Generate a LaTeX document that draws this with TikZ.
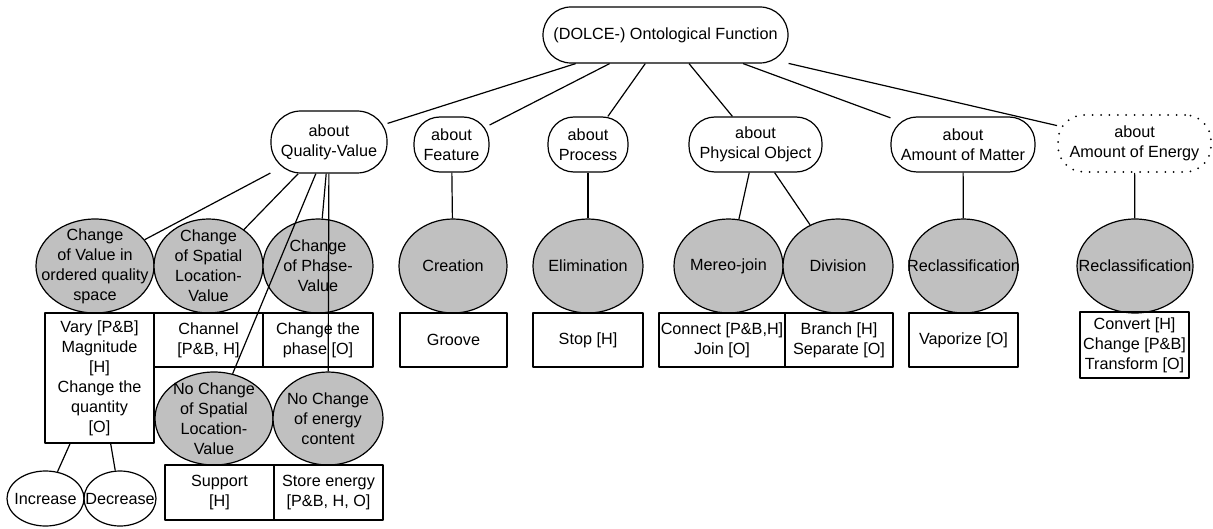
\documentclass[tikz,border=0pt]{standalone}
\usepackage{fontspec}
\setmainfont{Liberation Sans}
\usetikzlibrary{shapes.geometric}
\definecolor{funcgray}{RGB}{192,192,192}
\begin{document}
\begin{tikzpicture}[x=.5pt, y=-.5pt, line width=.6pt, line join=round, font=\fontsize{8.1}{10}\selectfont,
	about/.style={draw, rounded corners=13pt, minimum height=27.5pt, inner sep=0pt, align=center},
	func/.style={draw, ellipse, fill=funcgray, minimum height=47pt, inner sep=0pt},
	term/.style={draw, rectangle, minimum height=27pt, inner sep=0pt, align=center},
	leaf/.style={draw, ellipse, minimum height=27.5pt, inner sep=0pt}]
	\useasboundingbox (0,0) rectangle (1213,529);
	% root and the six "about" kinds
	\node[about, rounded corners=14pt, minimum width=122.5pt, minimum height=28pt] (root) at (665.5,35) {(DOLCE-) Ontological Function};
	\node[about, rounded corners=15pt, minimum width=58pt, minimum height=31pt] (qv) at (329,142) {about\\Quality-Value};
	\node[about, minimum width=37.5pt] (feat) at (451.5,144.5) {about\\Feature};
	\node[about, minimum width=40pt] (proc) at (588,144.5) {about\\Process};
	\node[about, minimum width=66.5pt] (phys) at (755.5,144.5) {about\\Physical Object};
	\node[about, minimum width=72pt] (matt) at (963,144.5) {about\\Amount of Matter};
	\node[about, minimum width=76.5pt, minimum height=28.5pt, line width=1pt, dash pattern=on 0pt off 4.2pt, line cap=round] (ener) at (1134.5,143.5) {about\\Amount of Energy};
	% functions
	\node[func, minimum width=59pt, label={[align=center]center:Change\\of Value in\\ordered quality\\space}] (cval) at (95,266) {};
	\node[func, minimum width=54.5pt, label={[align=center]center:Change\\of Spatial\\Location-\\Value}] (cloc) at (208.5,266) {};
	\node[func, minimum width=55pt, label={[align=center]center:Change\\of Phase-\\Value}] (cphase) at (318,266) {};
	\node[func, minimum width=54pt, label={center:Creation}] (crea) at (453,266) {};
	\node[func, minimum width=55pt, label={center:Elimination}] (elim) at (588,266) {};
	\node[func, minimum width=54.5pt, label={center:Mereo-join}] (mereo) at (728.5,266) {};
	\node[func, minimum width=55pt, label={center:Division}] (divi) at (838,266) {};
	\node[func, minimum width=54.5pt, label={center:Reclassification}] (reclm) at (963.5,266) {};
	\node[func, minimum width=58pt, label={center:Reclassification}] (recle) at (1135,266) {};
	\node[func, minimum width=59pt, minimum height=46.5pt, label={[align=center]center:No Change\\of Spatial\\Location-\\Value}] (nloc) at (214,418.5) {};
	\node[func, minimum width=55pt, minimum height=46.5pt, label={[align=center]center:No Change\\of energy\\content}] (nener) at (328,418.5) {};
	% verbs
	\node[term, minimum width=54.5pt, minimum height=65pt] (vary) at (99.5,378) {Vary [P\&B]\\Magnitude\\{}[H]\\Change the\\quantity\\{}[O]};
	\node[term, minimum width=54.5pt] (chan) at (208.5,340) {Channel\\{}[P\&B, H]};
	\node[term, minimum width=55pt] (phase) at (318,340) {Change the\\phase [O]};
	\node[term, minimum width=53.5pt] (groove) at (453.5,340) {Groove};
	\node[term, minimum width=55pt] (stop) at (588,340) {Stop [H]};
	\node[term, minimum width=63pt] (conn) at (722,340) {Connect [P\&B,H]\\Join [O]};
	\node[term, minimum width=54pt] (branch) at (839,340) {Branch [H]\\Separate [O]};
	\node[term, minimum width=54.5pt] (vapor) at (963.5,340) {Vaporize [O]};
	\node[term, minimum width=54.5pt, minimum height=33pt] (conv) at (1134.5,345) {Convert [H]\\Change [P\&B]\\Transform [O]};
	\node[term, minimum width=54.5pt, minimum height=27.5pt] (supp) at (219.5,492.5) {Support\\{}[H]};
	\node[term, minimum width=54.5pt, minimum height=27.5pt] (store) at (328.5,492.5) {Store energy\\{}[P\&B, H, O]};
	\node[leaf, minimum width=38.5pt, label={center:Increase}] (incr) at (45.5,498.5) {};
	\node[leaf, minimum width=36pt, label={center:Decrease}] (decr) at (120,498.5) {};
	% links
	\foreach \a/\b in {root/qv, root/feat, root/proc, root/phys, root/matt, root/ener,
		qv/cval, qv/cloc, qv/cphase, qv/nloc, qv/nener, feat/crea, proc/elim,
		phys/mereo, phys/divi, matt/reclm, ener/recle, vary/incr, vary/decr}
		\draw (\a)--(\b);
\end{tikzpicture}
\end{document}
